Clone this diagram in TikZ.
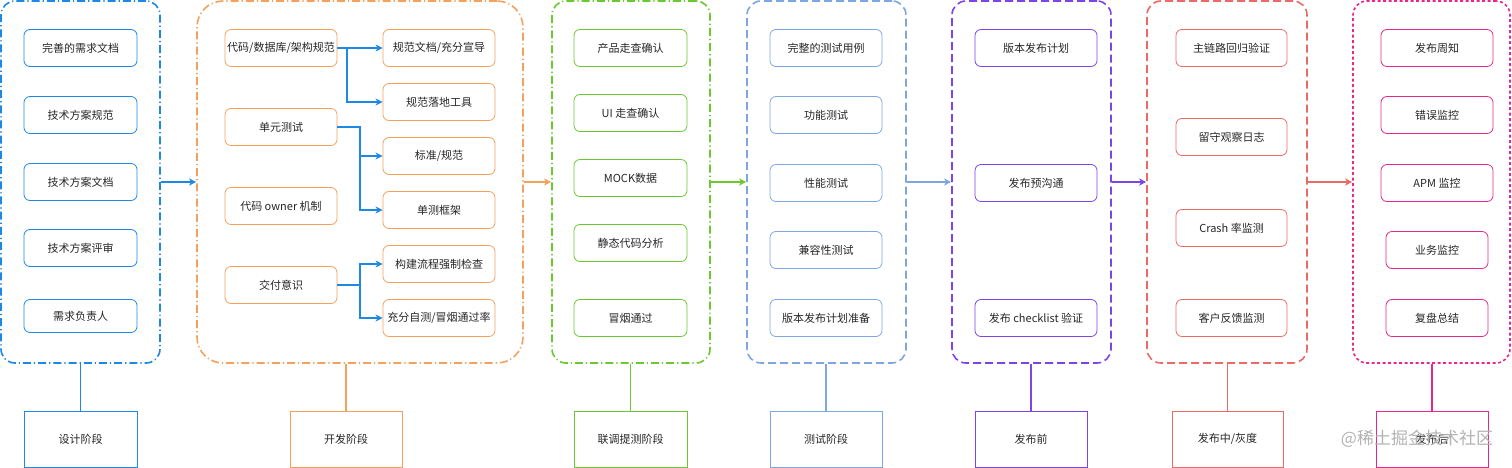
\documentclass[tikz,border=0pt]{standalone}
\usepackage{fontspec}
\setmainfont{Noto Sans CJK SC}
\usetikzlibrary{arrows.meta}

\definecolor{designblue}{RGB}{30,136,229}
\definecolor{devorange}{RGB}{244,161,94}
\definecolor{jointgreen}{RGB}{108,200,48}
\definecolor{testblue}{RGB}{126,166,224}
\definecolor{prepurple}{RGB}{125,68,230}
\definecolor{grayred}{RGB}{234,107,102}
\definecolor{postpink}{RGB}{230,40,140}

\tikzset{
    grp/.style={draw=#1, line width=1.6pt, rounded corners=14pt, minimum height=362pt, inner sep=0pt},
    dashdotline/.style={dash pattern=on 8pt off 3pt on 1.2pt off 3pt},
    dashline/.style={dash pattern=on 8pt off 4pt},
    dotline/.style={dash pattern=on 3pt off 2.5pt},
    item/.style={draw=#1, line width=0.8pt, rounded corners=6pt, minimum height=37pt, inner sep=0pt,
        text=black!85, font=\fontsize{11}{13}\selectfont},
    stage/.style={draw=#1, line width=0.8pt, minimum height=56pt, inner sep=0pt,
        text=black!85, font=\fontsize{11}{13}\selectfont},
    flow/.style={draw=#1, line width=1.3pt, -{Stealth[length=7pt,width=7pt,inset=2pt]}},
    link/.style={draw=#1, line width=1.3pt},
}

\begin{document}
\begin{tikzpicture}[x=1pt, y=-1pt]

    \useasboundingbox (0,0) rectangle (1512,468);

    % 设计阶段
    \node[grp=designblue, dashdotline, minimum width=159pt] (g1) at (80.5,182) {};
    \node[item=designblue, minimum width=113pt] (a1) at (80.5,48) {完善的需求文档};
    \node[item=designblue, minimum width=113pt] (a2) at (80.5,115) {技术方案规范};
    \node[item=designblue, minimum width=113pt] (a3) at (80.5,182) {技术方案文档};
    \node[item=designblue, minimum width=113pt] (a4) at (80.5,248) {技术方案评审};
    \node[item=designblue, minimum width=113pt, minimum height=33pt] (a5) at (80.5,316) {需求负责人};
    \node[stage=designblue, minimum width=113pt] (s1) at (80.5,439) {设计阶段};

    % 开发阶段
    \node[grp=devorange, dashdotline, rounded corners=26pt, minimum width=326pt] (g2) at (360,182) {};
    \node[item=devorange, minimum width=112pt] (c1) at (281,48) {代码/数据库/架构规范};
    \node[item=devorange, minimum width=112pt] (c2) at (281,127) {单元测试};
    \node[item=devorange, minimum width=112pt] (c3) at (281,206) {代码 owner 机制};
    \node[item=devorange, minimum width=112pt] (c4) at (281,285) {交付意识};
    \node[item=devorange, minimum width=112pt] (r1) at (439,48) {规范文档/充分宣导};
    \node[item=devorange, minimum width=112pt] (r2) at (439,102) {规范落地工具};
    \node[item=devorange, minimum width=112pt] (r3) at (439,156) {标准/规范};
    \node[item=devorange, minimum width=112pt] (r4) at (439,210) {单测框架};
    \node[item=devorange, minimum width=112pt] (r5) at (439,264) {构建流程强制检查};
    \node[item=devorange, minimum width=112pt] (r6) at (439,318) {充分自测/冒烟通过率};
    \node[stage=devorange, minimum width=112pt] (s2) at (346,439) {开发阶段};

    \coordinate (k1) at (347,48);
    \coordinate (k2) at (360,127);
    \coordinate (k3) at (360,285);
    \draw[flow=designblue] (c1.east) -- (r1.west);
    \draw[flow=designblue] (k1) |- (r2.west);
    \draw[flow=designblue] (c2.east) -- (k2) |- (r4.west);
    \draw[flow=designblue] (k2) |- (r3.west);
    \draw[flow=designblue] (c4.east) -- (k3) |- (r6.west);
    \draw[flow=designblue] (k3) |- (r5.west);

    % 联调提测阶段
    \node[grp=jointgreen, dashdotline, minimum width=158pt] (g3) at (631,182) {};
    \node[item=jointgreen, minimum width=113pt] (j1) at (630.5,48) {产品走查确认};
    \node[item=jointgreen, minimum width=113pt] (j2) at (630.5,113) {UI 走查确认};
    \node[item=jointgreen, minimum width=113pt] (j3) at (630.5,178) {MOCK数据};
    \node[item=jointgreen, minimum width=113pt] (j4) at (630.5,243) {静态代码分析};
    \node[item=jointgreen, minimum width=113pt] (j5) at (630.5,318) {冒烟通过};
    \node[stage=jointgreen, minimum width=113pt] (s3) at (630.5,439) {联调提测阶段};

    % 测试阶段
    \node[grp=testblue, dashline, minimum width=159pt] (g4) at (826.5,182) {};
    \node[item=testblue, minimum width=112pt] (t1) at (826,48) {完整的测试用例};
    \node[item=testblue, minimum width=112pt] (t2) at (826,115) {功能测试};
    \node[item=testblue, minimum width=112pt] (t3) at (826,183) {性能测试};
    \node[item=testblue, minimum width=112pt] (t4) at (826,250) {兼容性测试};
    \node[item=testblue, minimum width=112pt] (t5) at (826,318) {版本发布计划准备};
    \node[stage=testblue, minimum width=112pt] (s4) at (826,439) {测试阶段};

    % 发布前
    \node[grp=prepurple, dashline, minimum width=159pt] (g5) at (1031.5,182) {};
    \node[item=prepurple, minimum width=122pt] (p1) at (1036,48) {版本发布计划};
    \node[item=prepurple, minimum width=122pt] (p2) at (1036,183) {发布预沟通};
    \node[item=prepurple, minimum width=122pt] (p3) at (1036,318) {发布 checklist 验证};
    \node[stage=prepurple, minimum width=112pt] (s5) at (1031,439) {发布前};

    % 发布中/灰度
    \node[grp=grayred, dashline, minimum width=160pt] (g6) at (1227,182) {};
    \node[item=grayred, minimum width=111pt] (h1) at (1231.5,48) {主链路回归验证};
    \node[item=grayred, minimum width=111pt] (h2) at (1231.5,137) {留守观察日志};
    \node[item=grayred, minimum width=111pt] (h3) at (1231.5,228) {Crash 率监测};
    \node[item=grayred, minimum width=111pt] (h4) at (1231.5,318) {客户反馈监测};
    \node[stage=grayred, minimum width=111pt] (s6) at (1227.5,439) {发布中/灰度};

    % 发布后
    \node[grp=postpink, dotline, minimum width=157pt] (g7) at (1431.5,182) {};
    \node[item=postpink, minimum width=112pt] (q1) at (1437,48) {发布周知};
    \node[item=postpink, minimum width=112pt] (q2) at (1437,115) {错误监控};
    \node[item=postpink, minimum width=112pt] (q3) at (1437,183) {APM 监控};
    \node[item=postpink, minimum width=102pt] (q4) at (1437,250) {业务监控};
    \node[item=postpink, minimum width=102pt] (q5) at (1437,318) {复盘总结};
    \node[stage=postpink, minimum width=112pt] (s7) at (1432,439) {发布后};

    % 阶段之间
    \draw[flow=designblue] (g1.east) -- (g2.west);
    \draw[flow=devorange] (g2.east) -- (g3.west);
    \draw[flow=jointgreen] (g3.east) -- (g4.west);
    \draw[flow=testblue] (g4.east) -- (g5.west);
    \draw[flow=prepurple] (g5.east) -- (g6.west);
    \draw[flow=grayred] (g6.east) -- (g7.west);

    \draw[link=designblue] (s1.north) -- (s1.north |- g1.south);
    \draw[link=devorange] (s2.north) -- (s2.north |- g2.south);
    \draw[link=jointgreen] (s3.north) -- (s3.north |- g3.south);
    \draw[link=testblue] (s4.north) -- (s4.north |- g4.south);
    \draw[link=prepurple] (s5.north) -- (s5.north |- g5.south);
    \draw[link=grayred] (s6.north) -- (s6.north |- g6.south);
    \draw[link=postpink] (s7.north) -- (s7.north |- g7.south);

    \node[text=black!30, font=\fontsize{17}{19}\selectfont] (mark) at (1417,439) {@稀土掘金技术社区};

\end{tikzpicture}
\end{document}
